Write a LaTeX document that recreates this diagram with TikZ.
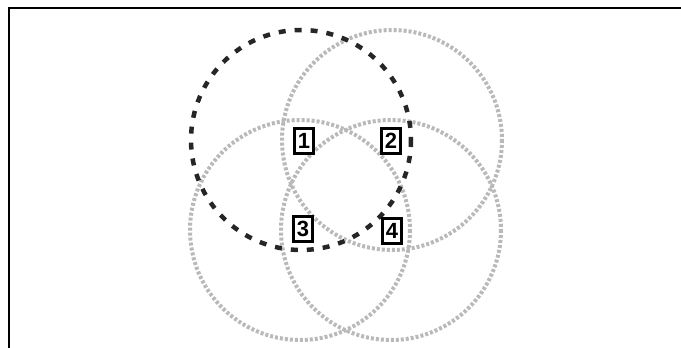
\documentclass[tikz,border=0pt]{standalone}
\usepackage{fontspec}
\setsansfont{Liberation Sans}

\begin{document}
\begin{tikzpicture}[x=1pt, y=-1pt, every node/.style={font=\sffamily\bfseries\fontsize{22}{22}\selectfont}, ring/.style={draw=gray!55, line width=4pt, dash pattern=on 3pt off 2pt}, dring/.style={draw=black!85, line width=4.5pt, dash pattern=on 7pt off 9pt}, num/.style={draw, line width=2.8pt, fill=white, inner sep=0pt, minimum width=19pt, minimum height=25pt}]
\useasboundingbox (0,0) rectangle (681,348);
\draw[line width=2pt] (681,7.5) -- (8.5,7.5) -- (8.5,348);
\draw[ring] (392,140) circle[radius=110];
\draw[ring] (300,230) circle[radius=110];
\draw[ring] (391,230) circle[radius=110];
\draw[dring] (301,140) circle[radius=110];
\node[num] (n1) at (304,141) {1};
\node[num] (n2) at (391,141) {2};
\node[num] (n3) at (303,229) {3};
\node[num] (n4) at (392,231) {4};
\end{tikzpicture}
\end{document}
